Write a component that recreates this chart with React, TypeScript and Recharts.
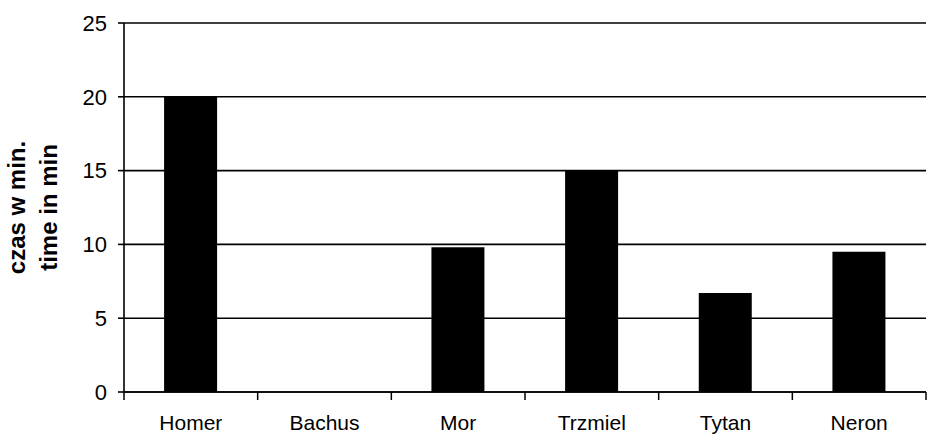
import React from 'react';
import { BarChart, Bar, XAxis, YAxis, CartesianGrid, Label } from 'recharts';

const categories = ['Homer', 'Bachus', 'Mor', 'Trzmiel', 'Tytan', 'Neron'];
const timeValues = [20, 0, 9.8, 15, 6.7, 9.5];
const yTicks = [0, 5, 10, 15, 20, 25];
const titleLines = ['czas w min.', 'time in min'];

const data = categories.map((name, i) => ({ name, value: timeValues[i] }));

const FONT = '"Liberation Sans", Arial, sans-serif';

const YTitle = (props: any) => {
  const vb = props.viewBox || {};
  const cy = vb.y + vb.height / 2;
  const x1 = vb.x - 39;
  const x2 = vb.x - 7;
  return (
    <g>
      <text x={x1} y={cy} transform={`rotate(-90, ${x1}, ${cy})`} textAnchor="middle"
        fontFamily={FONT} fontWeight="bold" fontSize={24} fill="#000">{titleLines[0]}</text>
      <text x={x2} y={cy} transform={`rotate(-90, ${x2}, ${cy})`} textAnchor="middle"
        fontFamily={FONT} fontWeight="bold" fontSize={24} fill="#000">{titleLines[1]}</text>
    </g>
  );
};

const CatTick = (props: any) => {
  const { x, y, payload, index } = props;
  const off = payload && typeof payload.offset === 'number' ? payload.offset : 0;
  const axisY = y - 23;
  return (
    <g>
      <line x1={x - off} y1={axisY} x2={x - off} y2={axisY + 8} stroke="#000" strokeWidth={1.5} />
      {index === categories.length - 1 && (
        <line x1={x + off} y1={axisY} x2={x + off} y2={axisY + 8} stroke="#000" strokeWidth={1.5} />
      )}
      <text x={x} y={y} dy="0.71em" textAnchor="middle" fontFamily={FONT} fontSize={21} fill="#000">
        {payload.value}
      </text>
    </g>
  );
};

export default function App() {
  return (
    <div style={{ position: 'absolute', left: 0, top: 0, width: 931, height: 441, background: '#fff' }}>
      <BarChart width={931} height={441} data={data}
        margin={{ top: 23, right: 5, bottom: 9, left: 64 }}
        barCategoryGap="30%">
        <CartesianGrid horizontal vertical={false} stroke="#000" strokeWidth={1.6}
          strokeOpacity={1} />
        <XAxis dataKey="name" height={40}
          axisLine={{ stroke: '#000', strokeWidth: 1.6 }} tickLine={false}
          tickSize={8} tickMargin={15} interval={0}
          tick={<CatTick />} />
        <YAxis width={60} domain={[0, 25]} ticks={yTicks} interval={0}
          axisLine={{ stroke: '#000', strokeWidth: 1.6 }}
          tickLine={{ stroke: '#000', strokeWidth: 1.6 }} tickSize={6} tickMargin={11}
          tick={{ fill: '#000', fontSize: 22, fontFamily: FONT }}>
          <Label content={<YTitle />} />
        </YAxis>
        <Bar dataKey="value" fill="#000" isAnimationActive={false} />
      </BarChart>
    </div>
  );
}
